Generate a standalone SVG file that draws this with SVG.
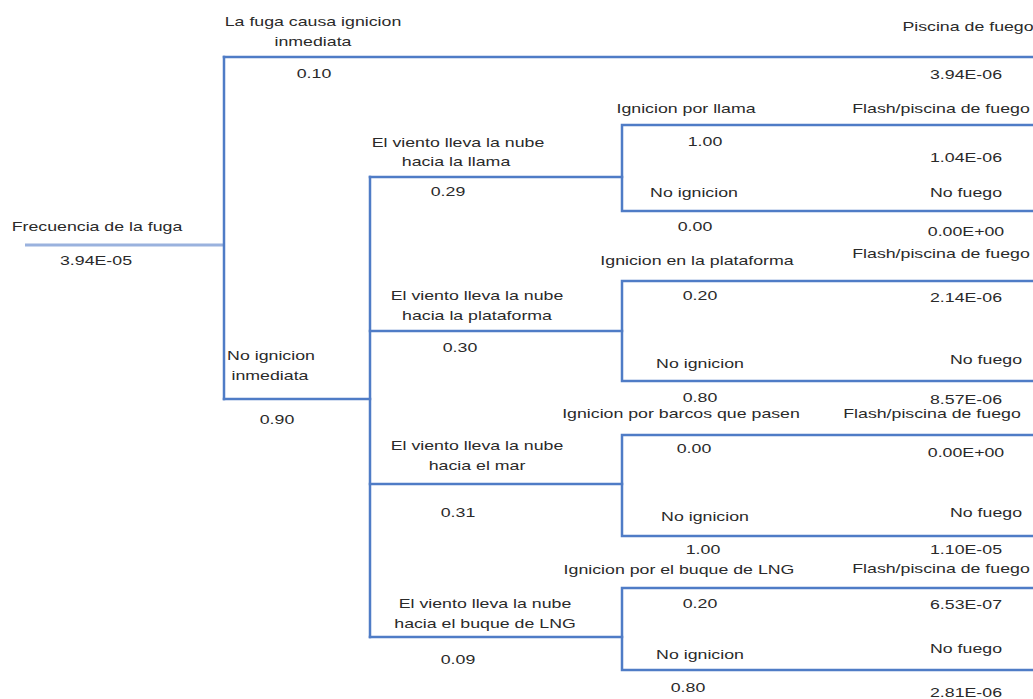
<svg xmlns="http://www.w3.org/2000/svg" width="1033" height="699" viewBox="0 0 1033 699">
  <style>
    .ln { fill: none; stroke: #4f7cc6; stroke-width: 2.5; stroke-linecap: square; }
    .root { fill: none; stroke: #9ab2de; stroke-width: 3; }
    text { font-family: "Liberation Sans", Arial, sans-serif; font-size: 12px; fill: #2a2a2a; text-anchor: middle; }
  </style>
  <rect width="1033" height="699" fill="#ffffff"/>

  <!-- branch lines of the event tree -->
  <g id="connectors">
    <path class="root" d="M25 245 H224"/>
    <path class="ln" d="M224 57 V399"/>
    <path class="ln" d="M224 57 H1033"/>
    <path class="ln" d="M224 399 H370"/>
    <path class="ln" d="M370 177 V637"/>
    <path class="ln" d="M370 177 H622 M370 331 H622 M370 484 H622 M370 637 H622"/>
    <path class="ln" d="M622 125 V211 M622 125 H1033 M622 211 H1033"/>
    <path class="ln" d="M622 281 V381 M622 281 H1033 M622 381 H1033"/>
    <path class="ln" d="M622 435 V536 M622 435 H1033 M622 536 H1033"/>
    <path class="ln" d="M622 588 V670 M622 588 H1033 M622 670 H1033"/>
  </g>

  <g id="initiating-event">
    <text transform="matrix(1.48 0 0 1 97 231)">Frecuencia de la fuga</text>
    <text transform="matrix(1.48 0 0 1 96 265)">3.94E-05</text>
  </g>

  <g id="immediate-ignition">
    <text transform="matrix(1.48 0 0 1 313 26)">La fuga causa ignicion</text>
    <text transform="matrix(1.48 0 0 1 313 46)">inmediata</text>
    <text transform="matrix(1.48 0 0 1 314 78)">0.10</text>
    <text transform="matrix(1.48 0 0 1 968 31)">Piscina de fuego</text>
    <text transform="matrix(1.48 0 0 1 966 79)">3.94E-06</text>
  </g>

  <g id="no-immediate-ignition">
    <text transform="matrix(1.48 0 0 1 271 360)">No ignicion</text>
    <text transform="matrix(1.48 0 0 1 270 380)">inmediata</text>
    <text transform="matrix(1.48 0 0 1 277 424)">0.90</text>
  </g>

  <g id="wind-flame">
    <text transform="matrix(1.48 0 0 1 458 147)">El viento lleva la nube</text>
    <text transform="matrix(1.48 0 0 1 456 166)">hacia la llama</text>
    <text transform="matrix(1.48 0 0 1 448 196)">0.29</text>
    <text transform="matrix(1.48 0 0 1 686 113)">Ignicion por llama</text>
    <text transform="matrix(1.48 0 0 1 941 113)">Flash/piscina de fuego</text>
    <text transform="matrix(1.48 0 0 1 705 146)">1.00</text>
    <text transform="matrix(1.48 0 0 1 966 162)">1.04E-06</text>
    <text transform="matrix(1.48 0 0 1 694 197)">No ignicion</text>
    <text transform="matrix(1.48 0 0 1 966 197)">No fuego</text>
    <text transform="matrix(1.48 0 0 1 695 231)">0.00</text>
    <text transform="matrix(1.48 0 0 1 966 236)">0.00E+00</text>
  </g>

  <g id="wind-platform">
    <text transform="matrix(1.48 0 0 1 477 300)">El viento lleva la nube</text>
    <text transform="matrix(1.48 0 0 1 477 320)">hacia la plataforma</text>
    <text transform="matrix(1.48 0 0 1 460 352)">0.30</text>
    <text transform="matrix(1.48 0 0 1 697 265)">Ignicion en la plataforma</text>
    <text transform="matrix(1.48 0 0 1 941 258)">Flash/piscina de fuego</text>
    <text transform="matrix(1.48 0 0 1 700 300)">0.20</text>
    <text transform="matrix(1.48 0 0 1 966 302)">2.14E-06</text>
    <text transform="matrix(1.48 0 0 1 700 368)">No ignicion</text>
    <text transform="matrix(1.48 0 0 1 986 364)">No fuego</text>
    <text transform="matrix(1.48 0 0 1 700 402)">0.80</text>
    <text transform="matrix(1.48 0 0 1 966 404)">8.57E-06</text>
  </g>

  <g id="wind-sea">
    <text transform="matrix(1.48 0 0 1 477 450)">El viento lleva la nube</text>
    <text transform="matrix(1.48 0 0 1 477 470)">hacia el mar</text>
    <text transform="matrix(1.48 0 0 1 458 517)">0.31</text>
    <text transform="matrix(1.48 0 0 1 681 418)">Ignicion por barcos que pasen</text>
    <text transform="matrix(1.48 0 0 1 932 418)">Flash/piscina de fuego</text>
    <text transform="matrix(1.48 0 0 1 694 453)">0.00</text>
    <text transform="matrix(1.48 0 0 1 966 457)">0.00E+00</text>
    <text transform="matrix(1.48 0 0 1 705 521)">No ignicion</text>
    <text transform="matrix(1.48 0 0 1 986 517)">No fuego</text>
    <text transform="matrix(1.48 0 0 1 703 554)">1.00</text>
    <text transform="matrix(1.48 0 0 1 966 554)">1.10E-05</text>
  </g>

  <g id="wind-lng-ship">
    <text transform="matrix(1.48 0 0 1 485 608)">El viento lleva la nube</text>
    <text transform="matrix(1.48 0 0 1 485 628)">hacia el buque de LNG</text>
    <text transform="matrix(1.48 0 0 1 458 664)">0.09</text>
    <text transform="matrix(1.48 0 0 1 679 574)">Ignicion por el buque de LNG</text>
    <text transform="matrix(1.48 0 0 1 941 573)">Flash/piscina de fuego</text>
    <text transform="matrix(1.48 0 0 1 700 608)">0.20</text>
    <text transform="matrix(1.48 0 0 1 966 609)">6.53E-07</text>
    <text transform="matrix(1.48 0 0 1 700 659)">No ignicion</text>
    <text transform="matrix(1.48 0 0 1 966 653)">No fuego</text>
    <text transform="matrix(1.48 0 0 1 688 692)">0.80</text>
    <text transform="matrix(1.48 0 0 1 966 697)">2.81E-06</text>
  </g>
</svg>
